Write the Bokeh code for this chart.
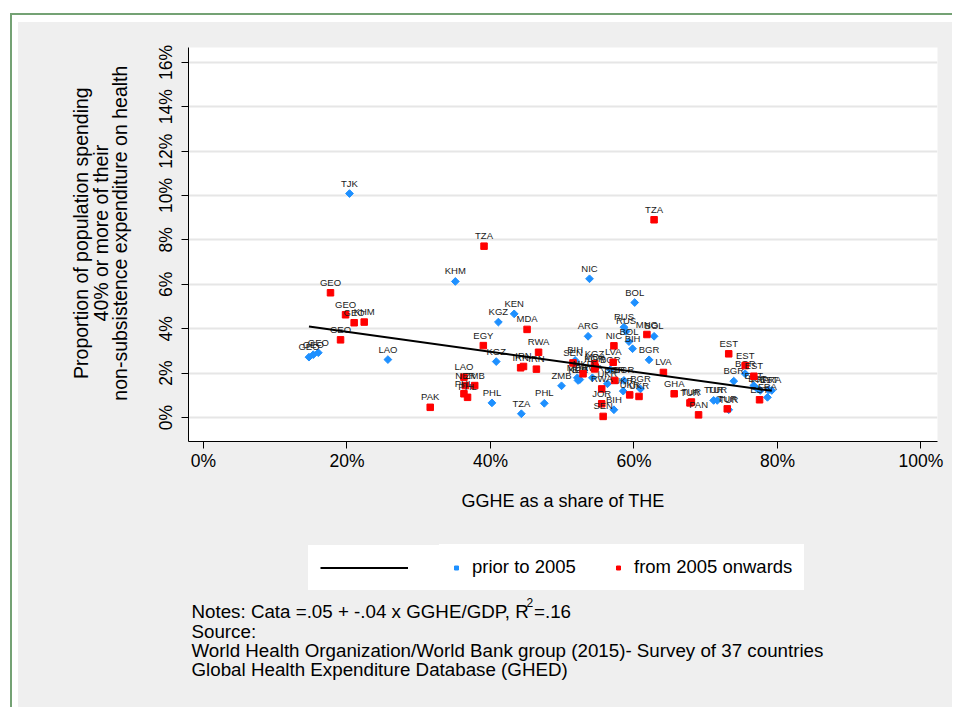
import numpy as np
from bokeh.plotting import figure
from bokeh.layouts import column, row
from bokeh.models import (Range1d, FixedTicker, PrintfTickFormatter, Label,
                          Legend, LegendItem, ColumnDataSource)
from bokeh.core.properties import value
from bokeh.embed import file_html
from bokeh.resources import INLINE

FONT = "Liberation Sans"

# ---------------- data (values in percent) ----------------
prior_country = ["TJK", "KHM", "LAO", "GEO", "GEO", "GEO", "KGZ", "KEN", "KGZ", "PHL",
                 "TZA", "PHL", "ZMB", "ARG", "NIC", "BOL", "RUS", "RUS", "BOL", "BIH",
                 "BGR", "BOL", "BIH", "MDA", "BIH", "KGZ", "RWA", "UKR", "BGR", "BGR",
                 "UKR", "BGR", "BIH", "BGR", "BGR", "EST", "EST", "FRA", "EST", "FRA",
                 "FRA", "TUR", "TUR", "TUR"]
prior_gghe = [20.35, 35.1, 25.7, 14.7, 15.3, 16.0, 41.1, 43.3, 40.8, 40.2,
              44.3, 47.5, 49.9, 53.6, 53.8, 60.1, 58.6, 58.9, 59.3, 59.8,
              62.1, 62.8, 51.8, 52.1, 52.45, 52.2, 54.2, 56.3, 56.7, 58.6,
              58.5, 60.9, 57.2, 75.5, 73.9, 76.7, 77.2, 77.6, 78.8, 79.2,
              78.6, 71.1, 71.6, 73.2]
prior_cata = [10.09, 6.13, 2.61, 2.72, 2.83, 2.92, 4.30, 4.67, 2.52, 0.66,
              0.17, 0.64, 1.43, 3.66, 6.25, 5.18, 4.07, 3.88, 3.42, 3.10,
              2.60, 3.66, 2.57, 1.79, 1.71, 1.67, 1.79, 1.52, 2.16, 1.67,
              1.19, 1.29, 0.35, 1.97, 1.64, 1.44, 1.29, 1.22, 1.25, 1.22,
              0.91, 0.77, 0.77, 0.35]

recent_country = ["TZA", "TZA", "GEO", "GEO", "GEO", "KHM", "GEO", "EGY", "MDA", "RWA",
                  "IRN", "IRN", "IRN", "PAK", "LAO", "NER", "ZMB", "PHL", "PHL", "MNG",
                  "NIC", "LVA", "GHA", "TUR", "TUR", "PAN", "SEN", "KGZ", "MDA", "KOR",
                  "MKD", "LVA", "BGR", "RWA", "JOR", "SEN", "UKR", "UKR", "EST", "EST",
                  "EST", "EST", "TUR"]
recent_gghe = [62.8, 39.1, 17.7, 19.8, 21.0, 22.4, 19.1, 39.0, 45.1, 46.7,
               44.2, 44.6, 46.4, 31.6, 36.3, 36.5, 37.8, 36.3, 36.8, 61.8,
               57.2, 64.1, 65.6, 67.8, 68.0, 69.0, 51.5, 54.5, 54.6, 54.5,
               52.9, 57.1, 57.3, 55.5, 55.5, 55.7, 59.4, 60.7, 73.2, 75.5,
               76.7, 77.5, 73.0]
recent_cata = [8.91, 7.72, 5.62, 4.63, 4.27, 4.30, 3.50, 3.24, 3.97, 2.94,
               2.24, 2.30, 2.18, 0.46, 1.82, 1.44, 1.44, 1.07, 0.91, 3.74,
               3.23, 2.03, 1.07, 0.66, 0.70, 0.12, 2.46, 2.42, 2.27, 2.19,
               1.97, 2.49, 1.67, 1.29, 0.62, 0.05, 1.02, 0.95, 2.87, 2.34,
               1.86, 0.80, 0.39]

# linear fit (percent units): Cata = .05 + -.04 x GGHE
fit_intercept = 4.76
fit_slope = -0.0449

x_ticks = [0, 20, 40, 60, 80, 100]
y_ticks = [0, 2, 4, 6, 8, 10, 12, 14, 16]

legend_labels = ["prior to 2005", "from 2005 onwards"]
x_title = "GGHE as a share of THE"
y_title = ["Proportion of population spending", "40% or more of their",
           "non-subsistence expenditure on health"]
notes = ["Notes: Cata =.05  + -.04 x GGHE/GDP, R =.16",
         "Source:",
         "World Health Organization/World Bank group (2015)- Survey of 37 countries",
         "Global Health Expenditure Database (GHED)"]

BLUE = "#1e90ff"
RED = "#ff0000"
BG = "#efefef"
GREEN = "#74a274"
W_LEFT, W_MAIN, H_TOP, H_BOT = 130, 804, 520, 165


def blank(width, height):
    f = figure(width=width, height=height, output_backend="svg", toolbar_location=None,
               x_range=Range1d(0, width), y_range=Range1d(0, height),
               x_axis_type=None, y_axis_type=None, min_border=0,
               background_fill_color=BG, border_fill_color=BG, outline_line_color=None)
    f.xgrid.visible = False
    f.ygrid.visible = False
    return f


# ---------------- main plot ----------------
p = figure(width=W_MAIN, height=H_TOP, output_backend="svg", toolbar_location=None,
           x_range=Range1d(-2.09, 102.3), y_range=Range1d(-1.08, 16.67),
           min_border_left=40, min_border_right=15, min_border_top=25, min_border_bottom=101,
           background_fill_color="white", border_fill_color=BG, outline_line_color=None)

for ax, ticks in [(p.xaxis, x_ticks), (p.yaxis, y_ticks)]:
    ax.ticker = FixedTicker(ticks=ticks)
    ax.formatter = PrintfTickFormatter(format="%d%%")
    ax.minor_tick_line_color = None
    ax.major_tick_in = 0
    ax.major_tick_out = 7
    ax.axis_line_color = "black"
    ax.major_tick_line_color = "black"
    ax.major_label_text_font = FONT
    ax.major_label_text_font_size = "17.5px"
    ax.major_label_text_color = "black"
    ax.axis_label_text_font = FONT
    ax.axis_label_text_font_size = "18px"
    ax.axis_label_text_font_style = "normal"
    ax.axis_label_text_color = "black"
p.yaxis.major_label_orientation = "vertical"
p.yaxis.major_label_standoff = 5
p.xaxis.major_label_standoff = 2
p.xaxis.axis_label = x_title
p.xaxis.axis_label_standoff = 17

p.xgrid.visible = False
p.ygrid.ticker = FixedTicker(ticks=y_ticks)
p.ygrid.grid_line_color = "#e6e6e6"
p.ygrid.grid_line_width = 2

bs = ColumnDataSource(dict(x=prior_gghe, y=prior_cata, lab=prior_country))
rs = ColumnDataSource(dict(x=recent_gghe, y=recent_cata, lab=recent_country))

blue_style = dict(marker="square", angle=np.pi / 4, size=5.5, fill_color=BLUE, line_color=BLUE)
red_style = dict(marker="square", size=6.5, fill_color=RED, line_color=RED)
line_style = dict(line_color="black", line_width=2)
lab_style = dict(text_font=value(FONT), text_font_size="9.5px", text_align="center",
                 text_baseline="bottom", y_offset=-5, text_color="#1a1a1a")

p.scatter("x", "y", source=bs, **blue_style)
p.text("x", "y", text="lab", source=bs, **lab_style)
p.scatter("x", "y", source=rs, **red_style)
p.text("x", "y", text="lab", source=rs, **lab_style)

all_x = prior_gghe + recent_gghe
fx = [min(all_x), max(all_x)]
fy = [fit_intercept + fit_slope * v for v in fx]
p.line(fx, fy, **line_style)

# ---------------- y-axis title panel ----------------
fl = blank(W_LEFT, H_TOP)
for xv, t in zip([62, 82, 101], y_title):
    fl.add_layout(Label(x=xv, y=275, text=t, angle=np.pi / 2, text_align="center",
                        text_baseline="middle", text_font=FONT, text_font_size="19.5px",
                        text_color="black"))

# ---------------- legend + notes panel ----------------
fb = blank(W_LEFT + W_MAIN, H_BOT)
# legend swatches only: renderers sit outside the visible range of this panel
swatch_line = ColumnDataSource(dict(x=[-60, -50], y=[-60, -60]))
swatch_pt = ColumnDataSource(dict(x=[-60], y=[-60]))
k_line = fb.line("x", "y", source=swatch_line, **line_style)
k_blue = fb.scatter("x", "y", source=swatch_pt, **blue_style)
k_red = fb.scatter("x", "y", source=swatch_pt, **red_style)

common = dict(orientation="horizontal", padding=11, margin=0, spacing=0,
              glyph_height=21, label_height=21,
              background_fill_color="white", background_fill_alpha=1.0,
              border_line_color="white", border_line_width=1,
              label_text_font=FONT, label_text_font_size="18.5px", label_text_color="black")
legA = Legend(items=[LegendItem(label=" ", renderers=[k_line])], location=(290, 117),
              glyph_width=88, label_width=23, label_standoff=5, **common)
legB = Legend(items=[LegendItem(label=legend_labels[0], renderers=[k_blue]),
                     LegendItem(label=legend_labels[1], renderers=[k_red])],
              location=(421, 117), glyph_width=10, label_width=141, label_standoff=11, **common)
fb.add_layout(legA)
fb.add_layout(legB)

for yv, t in zip([96, 76, 57, 38], notes):
    fb.add_layout(Label(x=173, y=yv, text=t, text_align="left", text_baseline="middle",
                        text_font=FONT, text_font_size="18.75px", text_color="black"))
fb.add_layout(Label(x=508, y=105, text="2", text_align="left", text_baseline="middle",
                    text_font=FONT, text_font_size="12px", text_color="black"))

layout = column(row(fl, p), fb,
                styles={"margin-left": "10px", "margin-top": "13px",
                        "border-left": "2px solid " + GREEN,
                        "border-top": "2px solid " + GREEN,
                        "padding-left": "6px", "padding-top": "7px",
                        "background-color": BG, "background-clip": "content-box"})

open("out.html", "w").write(file_html(layout, INLINE))
